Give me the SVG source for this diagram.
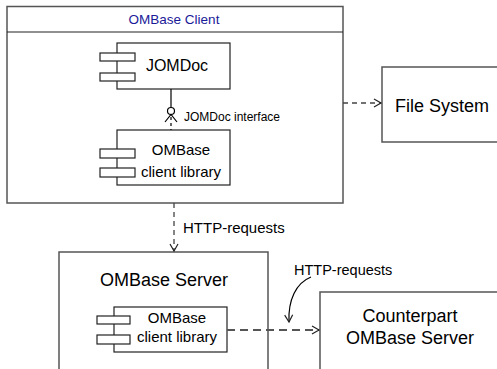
<svg xmlns="http://www.w3.org/2000/svg" width="497" height="369" viewBox="0 0 497 369">
<style>
text{font-family:"Liberation Sans",Arial,sans-serif;fill:#000}
.box{fill:#fff;stroke:#555;stroke-width:1.5}
.cmp{fill:#fff;stroke:#222;stroke-width:1.2}
.ln{fill:none;stroke:#000;stroke-width:1.2}
.dash{fill:none;stroke:#444;stroke-width:1.3;stroke-dasharray:5,4}
.dashg{fill:none;stroke:#555;stroke-width:1.8;stroke-dasharray:8,5}
.big{font-size:18px}
.mid{font-size:15px}
</style>
<defs>
<marker id="open" markerWidth="10" markerHeight="10" refX="8" refY="5" orient="auto" markerUnits="userSpaceOnUse">
<path d="M1,1 L8,5 L1,9" fill="none" stroke="#222" stroke-width="1.2"/>
</marker>
</defs>
<rect width="497" height="369" fill="#fff"/>
<g id="client">
<rect class="box" x="7" y="6.5" width="336" height="196.5"/>
<line x1="7" y1="32" x2="343" y2="32" stroke="#222" stroke-width="1.2"/>
<text x="174" y="24" text-anchor="middle" font-size="13.5" style="fill:#1a1a99">OMBase Client</text>
</g>
<g id="jomdoc">
<rect class="cmp" x="117" y="43" width="113" height="46"/>
<rect class="cmp" x="100" y="53" width="35" height="8"/>
<rect class="cmp" x="100" y="73" width="35" height="8"/>
<text x="177" y="71" text-anchor="middle" font-size="16">JOMDoc</text>
</g>
<g id="clientlib">
<rect class="cmp" x="117" y="130" width="113" height="55"/>
<rect class="cmp" x="100" y="149" width="35" height="9"/>
<rect class="cmp" x="100" y="168" width="35" height="9"/>
<text class="mid" x="181" y="155" text-anchor="middle">OMBase</text>
<text class="mid" x="181" y="177" text-anchor="middle">client library</text>
</g>
<g id="filesystem">
<rect class="box" x="382" y="67" width="118" height="75"/>
<text class="big" x="395" y="112">File System</text>
</g>
<g id="server">
<rect class="box" x="59" y="252" width="209" height="130"/>
<text class="big" x="164" y="286" text-anchor="middle">OMBase Server</text>
</g>
<g id="serverlib">
<rect class="cmp" x="114" y="307" width="113" height="45"/>
<rect class="cmp" x="97" y="316" width="33" height="8"/>
<rect class="cmp" x="97" y="335" width="33" height="9"/>
<text x="177" y="323" text-anchor="middle" font-size="15">OMBase</text>
<text x="177" y="342" text-anchor="middle" font-size="15">client library</text>
</g>
<g id="counterpart">
<rect class="box" x="320" y="292" width="180" height="90"/>
<text class="big" x="410" y="322" text-anchor="middle">Counterpart</text>
<text class="big" x="410" y="344" text-anchor="middle">OMBase Server</text>
</g>
<g id="connectors">
<line class="ln" x1="171" y1="89" x2="171" y2="107.5"/>
<circle cx="171" cy="111" r="3.5" fill="#fff" stroke="#000" stroke-width="1.2"/>
<path class="ln" d="M165,122 L171,114.5 L177,122"/>
<line x1="171" y1="117" x2="171" y2="130" stroke="#000" stroke-width="1.2" stroke-dasharray="3,3"/>
<text x="184" y="121" font-size="12">JOMDoc interface</text>
<line class="dash" x1="343" y1="103" x2="381" y2="103" marker-end="url(#open)"/>
<line class="dash" x1="174" y1="203" x2="174" y2="251" marker-end="url(#open)"/>
<text x="183" y="233" font-size="15">HTTP-requests</text>
<line class="dashg" x1="227" y1="330" x2="319" y2="330" marker-end="url(#open)"/>
<path class="ln" d="M311,277 C296,283 288,300 289,322" marker-end="url(#open)"/>
<text x="294" y="275" font-size="14.5">HTTP-requests</text>
</g>
</svg>
